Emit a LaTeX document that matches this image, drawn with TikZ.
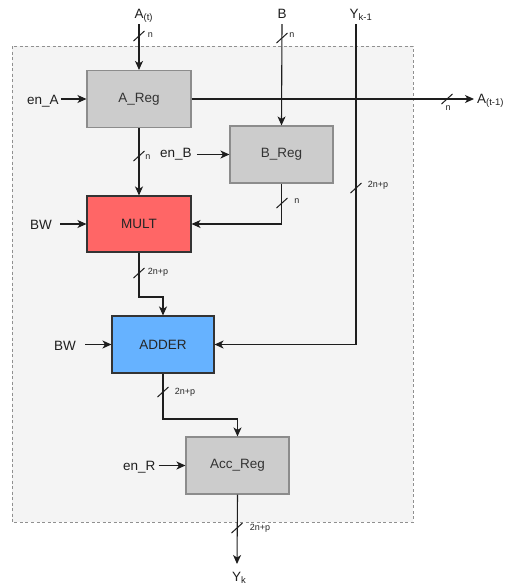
\documentclass[tikz,border=0pt]{standalone}
\usepackage{fontspec}
\setmainfont{Liberation Sans}
\usetikzlibrary{arrows.meta,calc}
\definecolor{regfill}{HTML}{CCCCCC}
\definecolor{regdraw}{HTML}{8C8C8C}
\definecolor{multfill}{HTML}{FF6666}
\definecolor{adderfill}{HTML}{66B2FF}
\definecolor{bgfill}{HTML}{F4F4F4}
\definecolor{bgdraw}{HTML}{909090}
\definecolor{wirecol}{HTML}{1E1E1E}
\definecolor{boxtext}{HTML}{333333}
\tikzset{
  box/.style={draw, inner sep=0pt, minimum width=104pt, minimum height=57pt,
    font=\fontsize{13.5}{16}\selectfont, line width=1.1pt},
  regbox/.style={box, fill=regfill, draw=regdraw, text=boxtext},
  opbox/.style={box, draw=boxtext, text=black!85},
  wire/.style={draw=wirecol, line width=1.1pt},
  arr/.style={wire, -{Stealth[length=9pt,width=8pt,inset=2.5pt]}},
  lbl/.style={inner sep=0pt, font=\fontsize{13.5}{16}\selectfont, text=black!88},
  bus/.style={inner sep=0pt, font=\fontsize{9}{10}\selectfont, text=black!85},
  pics/slash/.style={code={\draw[wire, line width=1pt] (-5.5,5) -- (5.5,-5);}}
}
\begin{document}
\begin{tikzpicture}[x=1pt,y=-1pt]
\useasboundingbox (0,0) rectangle (511,587);
% container
\draw[fill=bgfill, draw=bgdraw, line width=1pt, dash pattern=on 3pt off 2.5pt]
  (12,46) rectangle (413,522);

% blocks
\node[regbox] (areg) at (139,99) {A\_Reg};
\node[regbox, minimum width=103pt] (breg) at (281.5,154.5) {B\_Reg};
\node[opbox, fill=multfill, minimum height=56pt] (mult) at (139,224) {MULT};
\node[opbox, fill=adderfill, minimum width=102pt] (adder) at (163,344.5) {ADDER};
\node[regbox, minimum width=103pt] (acc) at (237.5,465.5) {Acc\_Reg};

% outer labels
\node[lbl, anchor=base west] (at) at (134.5,18.5) {A\textsubscript{(t)}};
\node[lbl, anchor=base] (b) at (282,18.5) {B};
\node[lbl, anchor=base west] (yk1) at (349.5,18.5) {Y\textsubscript{k-1}};
\node[lbl, anchor=base west] (aprev) at (477,103.5) {A\textsubscript{(t-1)}};
\node[lbl, anchor=base west] (yk) at (232,581) {Y\textsubscript{k}};
\node[lbl, anchor=base west] (enA) at (27,104) {en\_A};
\node[lbl, anchor=base west] (enB) at (160,157) {en\_B};
\node[lbl, anchor=base west] (bw1) at (30,229.5) {BW};
\node[lbl, anchor=base west] (bw2) at (54,350) {BW};
\node[lbl, anchor=base west] (enR) at (123,470.5) {en\_R};

% free ends and bends
\coordinate (atin) at (139,24);
\coordinate (bin) at (282,24);
\coordinate (ykin) at (356,24);
\coordinate (aout) at (474,99);
\coordinate (ykout) at (237,564);
\coordinate (bend1) at (150,297);
\coordinate (bend2) at (200,419);

% connectors
\draw[arr] (atin) -- (areg.north);
\draw[arr] (bin) -- (breg.north);
\draw[arr] (areg.east) -- (aout);
\draw[arr] (areg.south) -- (mult.north);
\draw[arr] (breg.south) |- (mult.east);
\draw[arr] (mult.south) |- (bend1) -| (adder.north);
\draw[arr] (ykin) |- (adder.east);
\draw[arr] (adder.south) |- (bend2) -| (acc.north);
\draw[arr] (acc.south) -- (ykout);

\draw[arr] ([xshift=2pt]enA.east |- areg.west) -- (areg.west);
\draw[arr] ([xshift=5pt]enB.east |- breg.west) -- (breg.west);
\draw[arr] ([xshift=8pt]bw1.east |- mult.west) -- (mult.west);
\draw[arr] ([xshift=9pt]bw2.east |- adder.west) -- (adder.west);
\draw[arr] ([xshift=3pt]enR.east |- acc.west) -- (acc.west);

% bus width marks
\pic at (139,36) {slash};
\node[bus] (w1) at (150.5,35.5) {n};
\pic at (282,38) {slash};
\node[bus] (w2) at (292,35) {n};
\pic at (139,156) {slash};
\node[bus] (w3) at (148,157) {n};
\pic at (282,203) {slash};
\node[bus] (w4) at (297,201.5) {n};
\pic at (356,188) {slash};
\node[bus] (w5) at (378,185.5) {2n+p};
\pic at (139,273) {slash};
\node[bus] (w6) at (158,272.5) {2n+p};
\pic at (163,392) {slash};
\node[bus] (w7) at (185,392.5) {2n+p};
\pic at (237,528) {slash};
\node[bus] (w8) at (260,528.5) {2n+p};
\pic at (447,99) {slash};
\node[bus] (w9) at (448,108) {n};
\end{tikzpicture}
\end{document}
